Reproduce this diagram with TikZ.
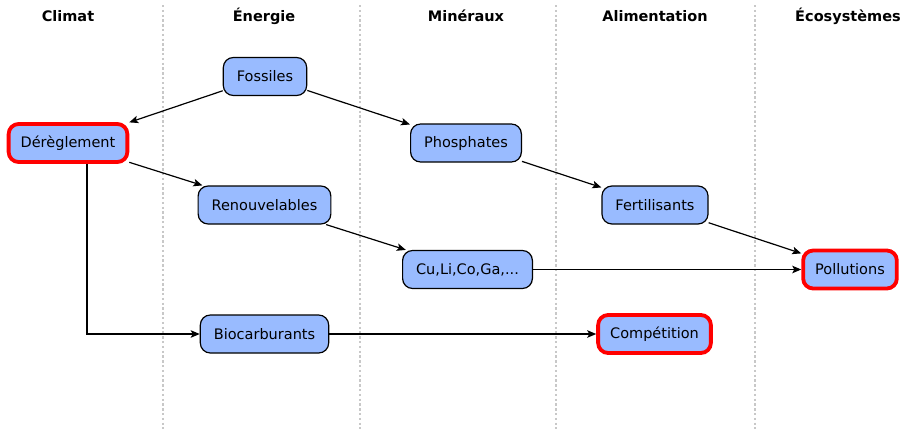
\documentclass[tikz,border=0pt]{standalone}
\usepackage{fontspec}
\setmainfont{DejaVu Sans}
\usetikzlibrary{arrows.meta}
\definecolor{boxblue}{HTML}{99BBFF}
\definecolor{sepgray}{HTML}{C8C8C8}
\begin{document}
\begin{tikzpicture}[x=1pt,y=-1pt,
  box/.style={draw=black,line width=1.2pt,fill=boxblue,rounded corners=10pt,
    minimum height=38pt,inner xsep=13.5pt,font=\fontsize{14.5}{17}\selectfont},
  hot/.style={box,draw=red,line width=3.8pt,inner xsep=12pt},
  head/.style={font=\fontsize{14.5}{17}\selectfont\bfseries},
  sep/.style={draw=sepgray,line width=2.6pt,dash pattern=on 2.4pt off 2.4pt},
  arr/.style={draw=black,line width=1.2pt,-{Stealth[length=9pt,width=7.5pt,inset=2pt]}}]
\useasboundingbox (0,0) rectangle (906,429);
\foreach \x in {163,360,556,755} \draw[sep] (\x,5) -- (\x,429);
\node[head] (h1) at (68,16) {Climat};
\node[head] (h2) at (264,16) {Énergie};
\node[head] (h3) at (466,16) {Minéraux};
\node[head] (h4) at (655,16) {Alimentation};
\node[head] (h5) at (848,16) {Écosystèmes};
\node[box] (fos) at (265,76.5) {Fossiles};
\node[hot] (der) at (68,143) {Dérèglement};
\node[box] (pho) at (466,143) {Phosphates};
\node[box] (ren) at (264.5,205) {Renouvelables};
\node[box] (fer) at (655,205) {Fertilisants};
\node[box] (cu) at (467.5,269.5) {Cu,Li,Co,Ga,...};
\node[hot] (pol) at (850,269.5) {Pollutions};
\node[box] (bio) at (264.5,334) {Biocarburants};
\node[hot] (com) at (654.5,334) {Compétition};
\draw[arr] (fos) -- (der);
\draw[arr] (fos) -- (pho);
\draw[arr] (der) -- (ren);
\draw[arr] ([xshift=19pt]der.south) |- (bio.west);
\draw[arr] (ren) -- (cu);
\draw[arr] (pho) -- (fer);
\draw[arr] (fer) -- (pol);
\draw[arr] (cu) -- (pol);
\draw[arr] (bio) -- (com);
\end{tikzpicture}
\end{document}
